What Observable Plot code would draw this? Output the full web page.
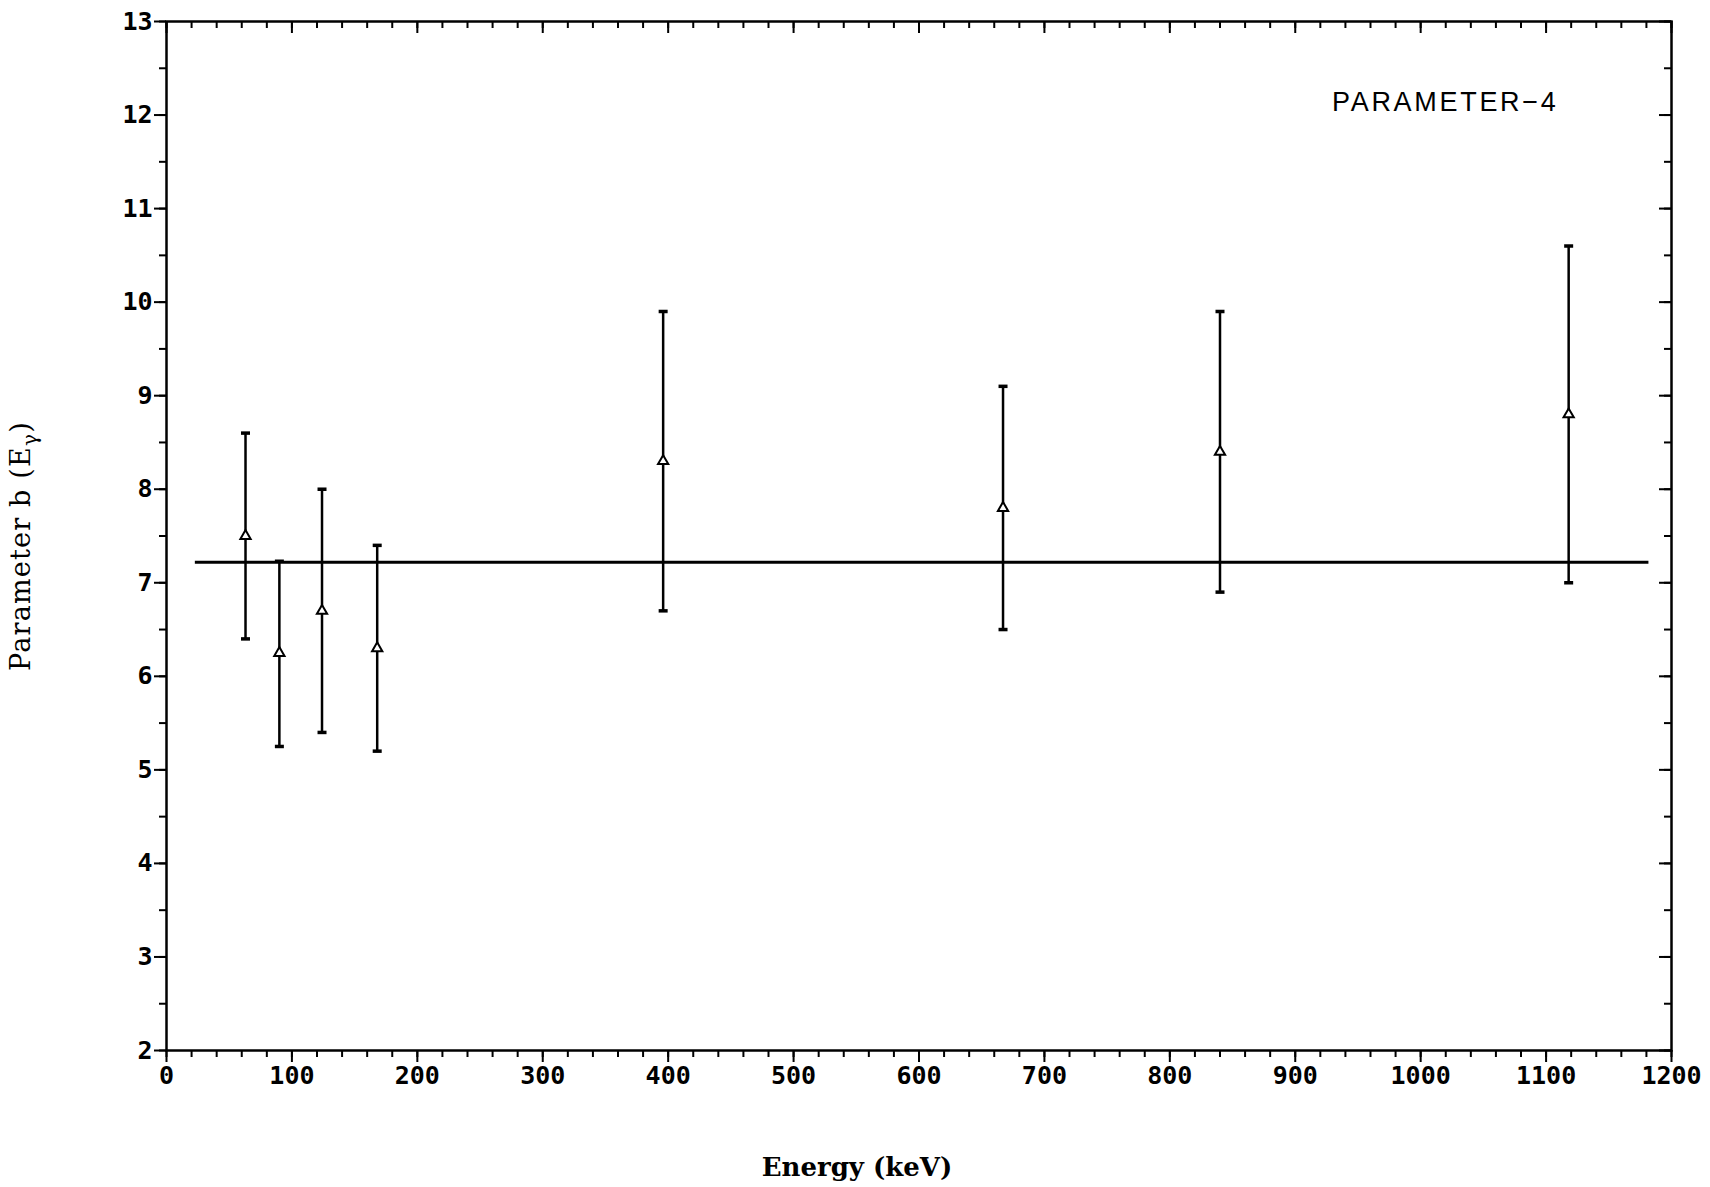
<!DOCTYPE html>
<html><head><meta charset="utf-8">
<script src="https://cdn.jsdelivr.net/npm/d3@7"></script>
<script src="https://cdn.jsdelivr.net/npm/@observablehq/plot@0.6"></script>
<style>html,body{margin:0;padding:0;background:#fff;overflow:hidden}</style>
</head><body><div id="chart"></div>
<script>
const energies = [63, 90, 124, 168, 396, 667, 840, 1118];
const values   = [7.5, 6.25, 6.7, 6.3, 8.3, 7.8, 8.4, 8.8];
const lower    = [6.4, 5.25, 5.4, 5.2, 6.7, 6.5, 6.9, 7.0];
const upper    = [8.6, 7.23, 8.0, 7.4, 9.9, 9.1, 9.9, 10.6];
const fitValue = 7.22;
const fitRange = [23, 1182];
const xMajorTicks = d3.range(0, 1201, 100);
const xMinorTicks = d3.range(0, 1201, 20);
const yMajorTicks = d3.range(2, 13.01, 1);
const yMinorTicks = d3.range(2, 13.01, 0.5);
const xLabel = "Energy (keV)";
const yLabel = "Parameter b (Eγ)";
const annotation = "PARAMETER−4";

const data = energies.map((e, i) => ({e, v: values[i], lo: lower[i], hi: upper[i]}));
const W = 1710, H = 1187, mt = 21, mr = 39, mb = 137, ml = 166;
const fw = W - ml - mr, fh = H - mt - mb;

const capSymbol = {draw(ctx, size) { const w = Math.sqrt(size / Math.PI); ctx.moveTo(-w, 0); ctx.lineTo(w, 0); }};
const tickFont = {fontSize: 25, fontFamily: "DejaVu Sans Mono", fontWeight: "bold"};

const chart = Plot.plot({
  width: W, height: H,
  marginTop: mt, marginRight: mr, marginBottom: mb, marginLeft: ml,
  style: {background: "#fff", color: "#000"},
  x: {domain: [0, 1200]},
  y: {domain: [2, 13]},
  marks: [
    Plot.frame({stroke: "#000", strokeWidth: 2.5}),
    // bottom ticks (outward)
    Plot.tickX(xMajorTicks, {x: d => d, insetTop: fh, insetBottom: -12, strokeWidth: 2}),
    Plot.tickX(xMinorTicks, {x: d => d, insetTop: fh, insetBottom: -7, strokeWidth: 2}),
    // top ticks (inward)
    Plot.tickX(xMajorTicks, {x: d => d, insetBottom: fh - 12, strokeWidth: 2}),
    Plot.tickX(xMinorTicks, {x: d => d, insetBottom: fh - 7, strokeWidth: 2}),
    // left ticks (outward)
    Plot.tickY(yMajorTicks, {y: d => d, insetLeft: -12, insetRight: fw, strokeWidth: 2}),
    Plot.tickY(yMinorTicks, {y: d => d, insetLeft: -7, insetRight: fw, strokeWidth: 2}),
    // right ticks (inward)
    Plot.tickY(yMajorTicks, {y: d => d, insetLeft: fw - 12, strokeWidth: 2}),
    Plot.tickY(yMinorTicks, {y: d => d, insetLeft: fw - 7, strokeWidth: 2}),
    Plot.axisX({ticks: xMajorTicks, tickSize: 0, tickPadding: 16, tickFormat: d3.format("d"), label: null, ...tickFont}),
    Plot.axisY({ticks: yMajorTicks, tickSize: 0, tickPadding: 14, tickFormat: d3.format("d"), label: null, ...tickFont}),
    // fit line
    Plot.ruleY([fitValue], {x1: fitRange[0], x2: fitRange[1], stroke: "#000", strokeWidth: 3}),
    // error bars
    Plot.ruleX(data, {x: "e", y1: "lo", y2: "hi", stroke: "#000", strokeWidth: 2.5}),
    Plot.dot(data, {x: "e", y: "hi", symbol: capSymbol, r: 4.5, stroke: "#000", strokeWidth: 3.5}),
    Plot.dot(data, {x: "e", y: "lo", symbol: capSymbol, r: 4.5, stroke: "#000", strokeWidth: 3.5}),
    Plot.dot(data, {x: "e", y: "v", symbol: "triangle", r: 3.8, fill: "#fff", stroke: "#000", strokeWidth: 2}),
    // annotation
    Plot.text([annotation], {frameAnchor: "top-right", dx: -113, dy: 70, textAnchor: "end", fontSize: 27, fontFamily: "Liberation Sans", fill: "#000"}),
    // axis titles
    Plot.text([xLabel], {frameAnchor: "bottom", dx: -62, dy: 125, textAnchor: "middle", fontSize: 26, fontFamily: "DejaVu Serif", fontWeight: "bold", fill: "#000"}),
    Plot.text([yLabel], {frameAnchor: "left", dx: -145, dy: 10, textAnchor: "middle", rotate: -90, fontSize: 27, fontFamily: "DejaVu Serif", fill: "#000"})
  ]
});
document.getElementById("chart").appendChild(chart);
chart.querySelectorAll("text").forEach(t => {
  if (t.textContent === yLabel) {
    t.style.letterSpacing = "1.2px";
    t.innerHTML = 'Parameter b (E<tspan dy="7" font-size="20">γ</tspan><tspan dy="-7">)</tspan>';
  } else if (t.textContent === annotation) {
    t.style.letterSpacing = "2.7px";
  }
});
</script></body></html>
